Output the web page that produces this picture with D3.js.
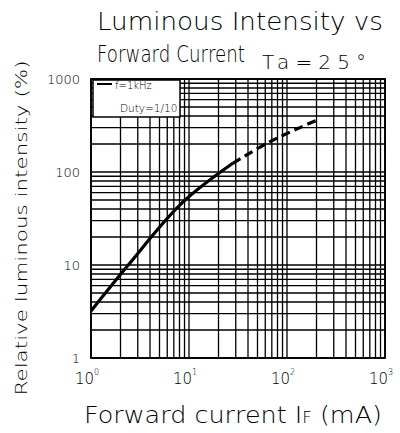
<!DOCTYPE html>
<head>
  <meta charset="utf-8">
  <title>Luminous Intensity vs Forward Current</title>
  <script type="text/javascript" src="https://d3js.org/d3.v7.min.js"></script>
  <style>
    body { margin: 0; background: #fff; }
    text { font-family: "DejaVu Sans", sans-serif; font-weight: 200; fill: #000; }
  </style>
</head>

<body>
  <script>
    // forward current (mA) vs relative luminous intensity (%)
    var solidCurrent = [1, 2.4, 8.4, 28];
    var solidIntensity = [3.2, 10, 46, 124];
    var dashCurrent = [28, 67, 200];
    var dashIntensity = [124, 212, 360];

    var xTicks = [1, 10, 100, 1000];
    var xTickExp = ["0", "1", "2", "3"];
    var yTicks = [1, 10, 100, 1000];
    var yTickLabels = ["1", "10", "100", "1000"];
    var legendLines = ["f=1kHz", "Duty=1/10"];

    var W = 400, H = 433;
    var svg = d3.select("body").append("svg")
      .attr("width", W)
      .attr("height", H);

    var x = d3.scaleLog().domain([1, 1000]).range([91, 385]);
    var y = d3.scaleLog().domain([1, 1000]).range([358, 79]);

    // log grid: every integer multiple inside each decade
    var gridVals = [];
    [1, 10, 100].forEach(function(dec) {
      d3.range(1, 10).forEach(function(m) { gridVals.push(dec * m); });
    });
    gridVals.push(1000);

    var grid = svg.append("g")
      .attr("stroke", "#000")
      .attr("stroke-width", 1.3);
    grid.selectAll("line.v").data(gridVals).enter().append("line")
      .attr("class", "v")
      .attr("x1", function(d) { return x(d); })
      .attr("x2", function(d) { return x(d); })
      .attr("y1", y(1)).attr("y2", y(1000));
    grid.selectAll("line.h").data(gridVals).enter().append("line")
      .attr("class", "h")
      .attr("y1", function(d) { return y(d); })
      .attr("y2", function(d) { return y(d); })
      .attr("x1", x(1)).attr("x2", x(1000));

    // frame
    svg.append("rect")
      .attr("x", x(1)).attr("y", y(1000))
      .attr("width", x(1000) - x(1)).attr("height", y(1) - y(1000))
      .attr("fill", "none").attr("stroke", "#000").attr("stroke-width", 1.8);

    // legend box
    var lg = svg.append("g");
    lg.append("rect")
      .attr("x", 93).attr("y", 80).attr("width", 87).attr("height", 37)
      .attr("fill", "#fff").attr("stroke", "#000").attr("stroke-width", 1.5);
    lg.append("line")
      .attr("x1", 97).attr("x2", 112).attr("y1", 84).attr("y2", 84)
      .attr("stroke", "#000").attr("stroke-width", 2);
    lg.append("text").attr("x", 115).attr("y", 89)
      .attr("font-size", 10).text(legendLines[0]);
    lg.append("text").attr("x", 120).attr("y", 112)
      .attr("font-size", 10.5).text(legendLines[1]);

    // curve
    var line = d3.line()
      .x(function(d) { return x(d[0]); })
      .y(function(d) { return y(d[1]); })
      .curve(d3.curveCatmullRom);

    svg.append("path")
      .datum(d3.zip(solidCurrent, solidIntensity))
      .attr("d", line)
      .attr("fill", "none").attr("stroke", "#000").attr("stroke-width", 3.2);
    svg.append("path")
      .datum(d3.zip(dashCurrent, dashIntensity))
      .attr("d", line)
      .attr("fill", "none").attr("stroke", "#000").attr("stroke-width", 3.2)
      .attr("stroke-dasharray", "9,5");

    // y tick labels
    svg.selectAll("text.yt").data(yTicks).enter().append("text")
      .attr("class", "yt")
      .attr("x", 80)
      .attr("y", function(d) { return y(d) + 5; })
      .attr("text-anchor", "end")
      .attr("font-size", 13)
      .text(function(d, i) { return yTickLabels[i]; });

    // x tick labels 10^n
    var xt = svg.selectAll("text.xt").data(xTicks).enter().append("text")
      .attr("class", "xt")
      .attr("x", function(d) { return x(d) - 4; })
      .attr("y", 384)
      .attr("text-anchor", "middle")
      .attr("font-size", 15);
    xt.append("tspan").text("10");
    xt.append("tspan")
      .attr("font-size", 8).attr("dy", -9)
      .text(function(d, i) { return xTickExp[i]; });

    // titles
    svg.append("text").attr("x", 97).attr("y", 30)
      .attr("font-size", 25).attr("textLength", 286).attr("lengthAdjust", "spacingAndGlyphs")
      .text("Luminous Intensity vs");
    svg.append("text")
      .attr("transform", "translate(97,62) scale(1,1.25)")
      .attr("font-family", "'DejaVu Sans Condensed', 'DejaVu Sans', sans-serif")
      .attr("font-size", 19).attr("textLength", 148).attr("lengthAdjust", "spacingAndGlyphs")
      .text("Forward Current");
    svg.append("text").attr("x", 262).attr("y", 69)
      .attr("font-size", 20).attr("textLength", 104).attr("lengthAdjust", "spacing")
      .text("Ta=25°");

    // x axis title
    var xl = svg.append("text").attr("x", 84).attr("y", 423)
      .attr("font-size", 23).attr("textLength", 298).attr("lengthAdjust", "spacingAndGlyphs");
    xl.append("tspan").text("Forward current I");
    xl.append("tspan").attr("font-size", 15).text("F");
    xl.append("tspan").text(" (mA)");

    // y axis title
    svg.append("text")
      .attr("transform", "translate(27,228) rotate(-90)")
      .attr("text-anchor", "middle")
      .attr("font-size", 16).attr("textLength", 335).attr("lengthAdjust", "spacingAndGlyphs")
      .text("Relative luminous intensity (%)");
  </script>
</body>
